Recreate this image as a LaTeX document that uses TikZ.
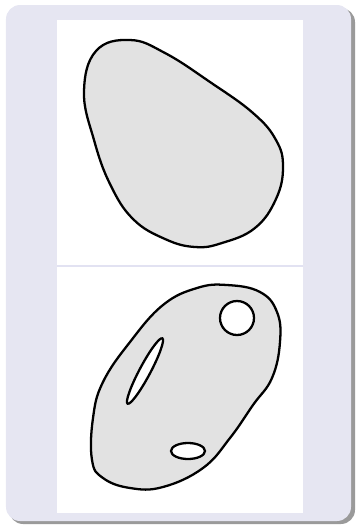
\documentclass[tikz,border=0pt]{standalone}
\usepackage{xcolor}
\usepackage{tikz}
\definecolor{blockbg}{HTML}{E6E6F2}
\definecolor{blockshadow}{HTML}{9A9A9A}
\definecolor{sepline}{HTML}{E2E2F2}
\definecolor{blobgray}{HTML}{E2E2E2}

\tikzset{
  blob/.style={fill=blobgray, draw=black, line width=1.3pt},
  hole/.style={fill=white, draw=black, line width=1.3pt}
}

\begin{document}
\begin{tikzpicture}[x=0.02cm, y=-0.02cm]
  \useasboundingbox (0,0) rectangle (359,525);
  % frame
  \fill[blockshadow, rounded corners=8] (9,8) rectangle (355,524);
  \fill[blockbg, rounded corners=8] (6,5) rectangle (351,521);
  \fill[white] (57,20) rectangle (303,513);
  \draw[sepline, line width=0.6pt] (57,266) -- (303,266);

  % upper blob
  \draw[blob] plot[smooth cycle, tension=0.7] coordinates {
    (84,92) (96,51) (130,40) (165,53) (210,82) (253,113) (276,140)
    (283,167) (276,199) (255,228) (222,243) (195,247) (165,239)
    (133,219) (110,184) (94,140)};

  % lower blob with holes
  \draw[blob] plot[smooth cycle, tension=0.7] coordinates {
    (227,285) (197,288) (163,305) (130,342) (103,382) (93,418)
    (92,460) (103,478) (130,488) (163,487) (203,468) (230,438)
    (253,405) (272,378) (280,342) (277,312) (260,292)};
  \draw[hole] (237,318) circle (17);
  \draw[hole] (145,371) ellipse [x radius=37, y radius=5.5, rotate=62];
  \draw[hole] (188,451) ellipse [x radius=17, y radius=8];
\end{tikzpicture}
\end{document}
